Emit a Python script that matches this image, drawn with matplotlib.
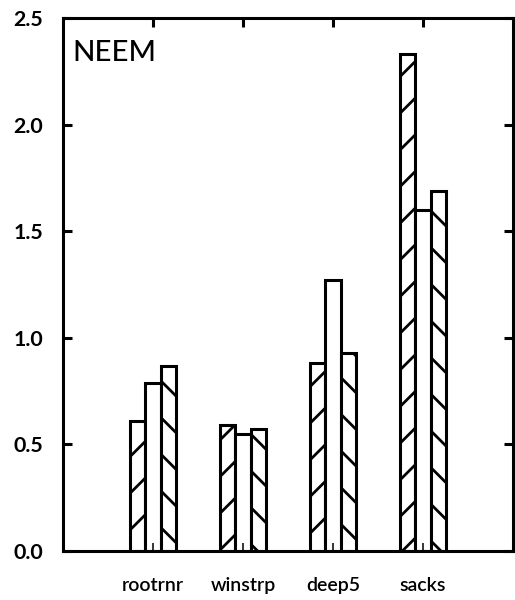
import matplotlib
matplotlib.use("Agg")
import matplotlib.pyplot as plt
import numpy as np

categories = ["rootrnr", "winstrp", "deep5", "sacks"]
series_a = [0.61, 0.59, 0.88, 2.33]   # "/" hatched bars
series_b = [0.79, 0.55, 1.27, 1.60]   # plain bars
series_c = [0.87, 0.57, 0.93, 1.69]   # "\" hatched bars
y_ticks = [0.0, 0.5, 1.0, 1.5, 2.0, 2.5]
y_tick_labels = ["0.0", "0.5", "1.0", "1.5", "2.0", "2.5"]
panel_label = "NEEM"

DPI = 220
plt.rcParams["font.family"] = ["Lato", "DejaVu Sans"]
plt.rcParams["hatch.linewidth"] = 0.9
plt.rcParams["hatch.color"] = "black"

fig = plt.figure(figsize=(515 / DPI, 600 / DPI), dpi=DPI)
ax = fig.add_axes([63 / 515, 49 / 600, 450 / 515, 533 / 600])

x = np.arange(1, len(categories) + 1)
w = 0.17
lw = 1.0
ax.bar(x - w, series_a, w, facecolor="white", edgecolor="black", linewidth=lw, hatch="//")
ax.bar(x, series_b, w, facecolor="white", edgecolor="black", linewidth=lw)
ax.bar(x + w, series_c, w, facecolor="white", edgecolor="black", linewidth=lw, hatch="\\\\")

ax.set_xlim(0, 5)
ax.set_ylim(0, 2.5)
ax.set_yticks(y_ticks)
ax.set_yticklabels(y_tick_labels)
ax.set_xticks(x)
ax.set_xticklabels(categories)

for s in ax.spines.values():
    s.set_linewidth(1.0)

ax.tick_params(axis="y", direction="in", left=True, right=True, length=2.8, width=1.0,
               labelsize=7.0, pad=6.5)
ax.tick_params(axis="x", direction="in", bottom=True, top=True, length=2.6, width=0.5,
               labelsize=6.4, pad=8.5)
for t in ax.xaxis.get_major_ticks():
    t.tick2line.set_markeredgewidth(1.0)
    t.tick2line.set_markersize(2.8)
for lab in ax.get_yticklabels():
    lab.set_fontweight("bold")
for lab in ax.get_xticklabels():
    lab.set_fontweight("semibold")

ax.text(0.02, 0.958, panel_label, transform=ax.transAxes, ha="left", va="top",
        fontsize=9.6, fontweight="medium")

fig.savefig("out.png", dpi=DPI)
